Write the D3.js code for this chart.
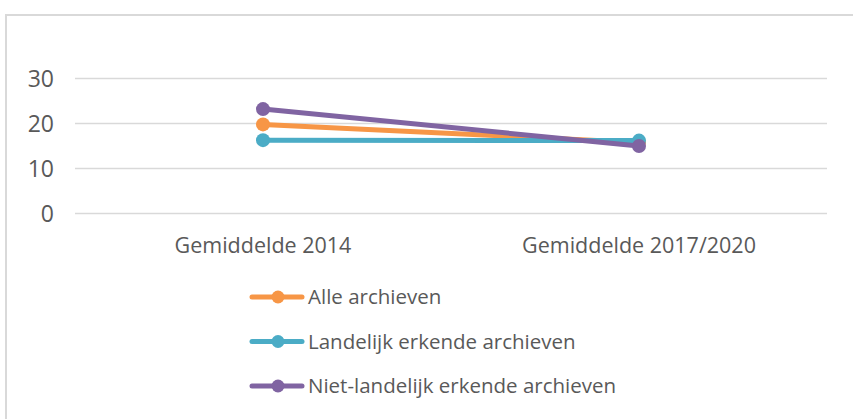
<!DOCTYPE html>
<html>
<head>
<meta charset="utf-8">
<script src="https://cdn.jsdelivr.net/npm/d3@7"></script>
<style>
  body { margin: 0; background: #fff; }
  svg { display: block; }
</style>
</head>
<body>
<script>
// data
const categories = ["Gemiddelde 2014", "Gemiddelde 2017/2020"];
const seriesNames = ["Alle archieven", "Landelijk erkende archieven", "Niet-landelijk erkende archieven"];
const alleArchieven = [19.8, 15.8];
const landelijkErkend = [16.3, 16.2];
const nietLandelijkErkend = [23.2, 15.0];
const yTicks = [0, 10, 20, 30];
const colors = ["#f79646", "#4bacc6", "#8064a2"];

const seriesValues = [alleArchieven, landelijkErkend, nietLandelijkErkend];

const width = 853, height = 419;
const svg = d3.select("body").append("svg")
    .attr("width", width)
    .attr("height", height);

// frame
svg.append("rect")
    .attr("x", 6).attr("y", 15)
    .attr("width", width).attr("height", height)
    .attr("fill", "#fff")
    .attr("stroke", "#d9d9d9")
    .attr("stroke-width", 2);

const x = d3.scaleBand().domain(categories).range([75, 827]);
const y = d3.scaleLinear().domain([0, 30]).range([213.5, 78.5]);

// gridlines
svg.append("g").selectAll("line")
    .data(yTicks)
    .join("line")
    .attr("x1", 75).attr("x2", 827)
    .attr("y1", d => y(d)).attr("y2", d => y(d))
    .attr("stroke", "#d9d9d9")
    .attr("stroke-width", 1.3);

// y labels
svg.append("g").selectAll("text")
    .data(yTicks)
    .join("text")
    .attr("x", 54)
    .attr("y", d => y(d))
    .attr("dy", "0.36em")
    .attr("text-anchor", "end")
    .attr("font-family", "Open Sans, sans-serif")
    .attr("font-size", 23)
    .attr("fill", "#595959")
    .text(d => d);

// x labels
svg.append("g").selectAll("text")
    .data(categories)
    .join("text")
    .attr("x", d => x(d) + x.bandwidth() / 2)
    .attr("y", 253)
    .attr("text-anchor", "middle")
    .attr("font-family", "Open Sans, sans-serif")
    .attr("font-size", 21.5)
    .attr("fill", "#595959")
    .text(d => d);

const line = d3.line()
    .x((d, i) => x(categories[i]) + x.bandwidth() / 2)
    .y(d => y(d));

seriesValues.forEach((vals, s) => {
    const g = svg.append("g");
    g.append("path")
        .attr("d", line(vals))
        .attr("fill", "none")
        .attr("stroke", colors[s])
        .attr("stroke-width", 5)
        .attr("stroke-linecap", "round");
    g.selectAll("circle")
        .data(vals)
        .join("circle")
        .attr("cx", (d, i) => x(categories[i]) + x.bandwidth() / 2)
        .attr("cy", d => y(d))
        .attr("r", 7)
        .attr("fill", colors[s]);
});

// legend
const legend = svg.append("g").selectAll("g")
    .data(seriesNames)
    .join("g")
    .attr("transform", (d, i) => `translate(0,${297 + i * 44.5})`);
legend.append("line")
    .attr("x1", 252).attr("x2", 302)
    .attr("stroke", (d, i) => colors[i])
    .attr("stroke-width", 5)
    .attr("stroke-linecap", "round");
legend.append("circle")
    .attr("cx", 278).attr("r", 6.5)
    .attr("fill", (d, i) => colors[i]);
legend.append("text")
    .attr("x", 308)
    .attr("dy", "0.35em")
    .attr("font-family", "Open Sans, sans-serif")
    .attr("font-size", 20.5)
    .attr("fill", "#595959")
    .text(d => d);
</script>
</body>
</html>
